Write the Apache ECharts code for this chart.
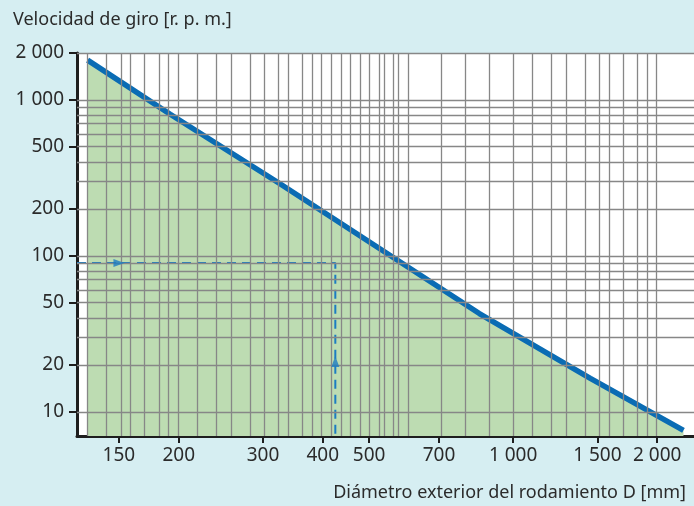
<!DOCTYPE html>
<html>
<head>
<meta charset="utf-8">
<script src="https://cdn.jsdelivr.net/npm/echarts@6/dist/echarts.min.js"></script>
<style>
  html, body { margin: 0; padding: 0; background: #d6eef2; }
  #chart { width: 694px; height: 506px; }
</style>
</head>
<body>
<div id="chart"></div>
<script>
// eje x: diámetro exterior D [mm], eje y: velocidad [r.p.m.]
const xTicks = [150, 200, 300, 400, 500, 700, 1000, 1500, 2000];
const yTicks = [10, 20, 50, 100, 200, 500, 1000, 2000];
const xGrid = [130, 140, 150, 160, 170, 180, 190, 200,
  220, 240, 260, 280, 300, 320, 340, 360, 380, 400, 420, 440, 460, 480, 500,
  520, 540, 560, 580, 600, 700, 800, 900, 1000, 1100, 1200, 1300, 1400, 1500,
  1600, 1700, 1800, 1900, 2000];
const yGrid = [10, 20, 30, 40, 50, 60, 70, 80, 90, 100, 200, 300, 400, 500,
  600, 700, 800, 900, 1000, 2000];

// curva límite
const diameter = [129, 192, 325, 850, 1450, 2270];
const speed = [1800, 810, 291, 42.7, 16.4, 7.6];

// ejemplo de lectura (línea discontinua)
const exampleD = [122.6, 425, 425];
const exampleN = [90, 90, 7];
const arrowD = [150, 425];
const arrowN = [90, 21];
const arrowRot = [-90, 0];

const xRange = [122.6, 2388];
const yRange = [7, 2000];

const lg = Math.log10;
const FONT = '"Noto Sans", sans-serif';

function fmt (v) {
  const n = Math.round(Math.pow(10, v));
  return String(n).replace(/\B(?=(\d{3})+(?!\d))/g, ' ');
}

const curve = diameter.map((d, i) => [lg(d), lg(speed[i])]);
const example = exampleD.map((d, i) => [lg(d), lg(exampleN[i])]);
const arrows = arrowD.map((d, i) => ({ value: [lg(d), lg(arrowN[i])], symbolRotate: arrowRot[i] }));

const gridLines = xGrid.map(v => ({ xAxis: lg(v) }))
  .concat(yGrid.map(v => ({ yAxis: lg(v) })));

const chart = echarts.init(document.getElementById('chart'));
chart.setOption({
  animation: false,
  backgroundColor: '#d6eef2',
  textStyle: { fontFamily: FONT },
  title: [
    {
      text: 'Velocidad de giro [r. p. m.]',
      left: 8, top: 6,
      textStyle: { fontFamily: FONT, fontSize: 18, fontWeight: 'normal', color: '#2b2b2b' }
    },
    {
      text: 'Diámetro exterior del rodamiento D [mm]',
      right: 3, top: 479,
      textStyle: { fontFamily: FONT, fontSize: 18, fontWeight: 'normal', color: '#2b2b2b' }
    }
  ],
  grid: { left: 77, right: 0, top: 53, bottom: 70, show: true, backgroundColor: '#fff', borderWidth: 0 },
  xAxis: {
    type: 'value',
    min: lg(xRange[0]), max: lg(xRange[1]),
    axisLine: { show: true, lineStyle: { color: '#1e1e1e', width: 3 } },
    axisTick: { show: true, length: 7, lineStyle: { color: '#1e1e1e', width: 2 }, customValues: xTicks.map(lg) },
    axisLabel: { customValues: xTicks.map(lg), formatter: fmt, margin: 10, fontSize: 19, color: '#2b2b2b', fontFamily: FONT },
    splitLine: { show: false }
  },
  yAxis: {
    type: 'value',
    min: lg(yRange[0]), max: lg(yRange[1]),
    axisLine: { show: true, lineStyle: { color: '#1e1e1e', width: 3 } },
    axisTick: { show: true, length: 8, lineStyle: { color: '#1e1e1e', width: 2 }, customValues: yTicks.map(lg) },
    axisLabel: { customValues: yTicks.map(lg), formatter: fmt, margin: 13, fontSize: 19, color: '#2b2b2b', fontFamily: FONT },
    splitLine: { show: false }
  },
  series: [
    {
      type: 'line',
      data: curve,
      symbol: 'none',
      lineStyle: { width: 0, opacity: 0 },
      areaStyle: { color: '#bddcb2', opacity: 1 },
      z: 1,
      silent: true
    },
    {
      type: 'line',
      data: [],
      z: 2,
      silent: true,
      markLine: {
        silent: true,
        symbol: 'none',
        animation: false,
        label: { show: false },
        lineStyle: { color: '#878787', width: 1.3, type: 'solid' },
        emphasis: { disabled: true },
        data: gridLines
      }
    },
    {
      type: 'line',
      data: curve,
      symbol: 'none',
      lineStyle: { color: '#0a6cb4', width: 5.5 },
      z: 3,
      silent: true
    },
    {
      type: 'line',
      data: example,
      symbol: 'none',
      lineStyle: { color: '#1b7cc2', width: 2, type: [9, 6] },
      z: 4,
      silent: true
    },
    {
      type: 'scatter',
      data: arrows,
      symbol: 'triangle',
      symbolSize: [8, 11],
      itemStyle: { color: '#1b7cc2' },
      z: 5,
      silent: true
    }
  ]
});
</script>
</body>
</html>
